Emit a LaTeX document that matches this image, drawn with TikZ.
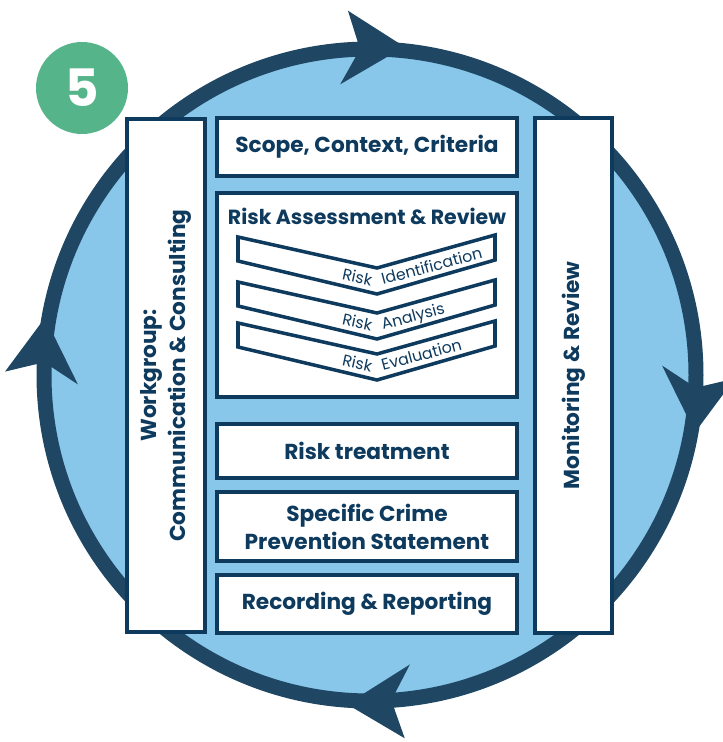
\documentclass[tikz,border=0pt]{standalone}
\usepackage{fontspec}
\setmainfont{Poppins}
\usepackage{tikz}
\definecolor{ringblue}{RGB}{31,71,99}
\definecolor{navy}{RGB}{14,58,94}
\definecolor{skyfill}{RGB}{136,198,234}
\definecolor{badgegreen}{RGB}{85,180,138}
\newcommand{\pxu}{0.03cm}

\begin{document}
\begin{tikzpicture}[x=0.03cm, y=0.03cm,
        box/.style={draw=navy, line width=3.8pt, fill=white, rectangle, text=navy, align=center, font=\bfseries\fontsize{18.5}{24}\selectfont},
        chev/.style={draw=navy, line width=3pt, fill=white},
        lbl/.style={text=navy, inner sep=0pt, font=\fontsize{13.5}{15}\selectfont}]
    \useasboundingbox (0,0) rectangle (723,742);
    % ring with four arrowheads
    \draw[ringblue, line width=12.8pt, fill=skyfill] (370,367) circle (326);
    \foreach \a in {84,-10,-94,170}
        \fill[ringblue, shift={(370,367)}, rotate=\a] (330,0) -- (360,60) -- (323,44) -- (286,60) -- cycle;
    % badge
    \node[circle, fill=badgegreen, minimum size=92*\pxu, inner sep=0pt, text=white, font=\bfseries\fontsize{44}{44}\selectfont] (five) at (82,654) {5};
    % side columns
    \node[box, rotate=90, minimum width=512.5*\pxu, minimum height=77.5*\pxu] (work) at (166,366.5) {Workgroup:\\Communication \& Consulting};
    \node[box, rotate=90, minimum width=514.5*\pxu, minimum height=76.5*\pxu] (monitor) at (573.5,366.5) {Monitoring \& Review};
    % middle column
    \node[box, minimum width=299.5*\pxu, minimum height=57.5*\pxu] (scope) at (367,595) {Scope, Context, Criteria};
    \node[box, minimum width=299.5*\pxu, minimum height=203.5*\pxu] (assess) at (367,447) {};
    \node[text=navy, font=\bfseries\fontsize{17.5}{24}\selectfont] (assesstitle) at (367,526) {Risk Assessment \& Review};
    \foreach \yy/\word [count=\i] in {505/Identification, 460/Analysis, 419/Evaluation}{
        \draw[chev] (238,\yy) -- (377,\yy-31) -- (495,\yy+2) -- (495,\yy-23) -- (377,\yy-57) -- (238,\yy-24) -- cycle;
        \node[lbl, rotate=-12, anchor=base east] (risk\i) at (371,\yy-49) {Risk};
        \node[lbl, rotate=15, anchor=base west] (part\i) at (383,\yy-48) {\word};
    }
    \node[box, minimum width=299.5*\pxu, minimum height=53.5*\pxu] (treat) at (367,291) {Risk treatment};
    \node[box, minimum width=299.5*\pxu, minimum height=68.5*\pxu] (crime) at (367,215.5) {Specific Crime\\Prevention Statement};
    \node[box, minimum width=299.5*\pxu, minimum height=57.5*\pxu] (record) at (367,138) {Recording \& Reporting};
\end{tikzpicture}
\end{document}
